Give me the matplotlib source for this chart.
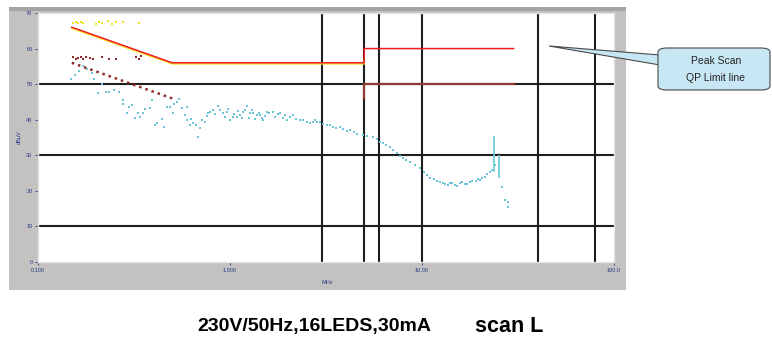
import matplotlib
matplotlib.use('Agg')
import matplotlib.pyplot as plt
from matplotlib.patches import Rectangle, FancyBboxPatch, Polygon

plt.rcParams['font.family'] = ['Liberation Sans', 'DejaVu Sans']

W, H = 772, 339

# peak scan trace, MHz / dBuV
scan_f = [0.149, 0.164, 0.172, 0.180, 0.196, 0.215, 0.226, 0.234, 0.264, 0.277,
          0.277, 0.291, 0.298, 0.309, 0.332, 0.340, 0.352, 0.383, 0.393, 0.407,
          0.417, 0.453, 0.470, 0.487, 0.505, 0.530, 0.543, 0.562, 0.583, 0.597,
          0.619, 0.642, 0.665, 0.681, 0.715, 0.741, 0.768, 0.787, 0.816, 0.866,
          0.919, 0.965, 1.00, 1.037, 1.088, 1.128, 1.169, 1.226, 1.271, 1.318,
          1.382, 1.432, 1.485, 1.558, 1.675, 1.821, 1.981, 2.129, 2.315, 2.518,
          2.706, 2.839, 2.943, 3.201, 3.440, 3.74, 4.217, 4.93, 5.56, 6.04,
          6.27, 6.81, 7.41, 7.68, 8.66, 9.76, 11.0, 12.41, 13.2, 13.99,
          14.8, 15.78, 16.7, 17.78, 19.0, 20.05, 21.2, 22.6, 24.0, 26.1,
          27.1, 28.0, 28.1]
scan_db = [51.4, 53.7, 55.1, 54.3, 51.4, 50.0, 47.8, 47.8, 47.8, 45.5,
           44.5, 41.9, 43.6, 44.2, 41.9, 40.8, 41.9, 43.3, 45.5, 38.5,
           39.0, 38.0, 43.6, 43.6, 41.9, 45.0, 45.8, 43.3, 41.3, 43.6,
           38.5, 39.1, 38.5, 35.1, 39.9, 39.4, 41.9, 42.2, 42.7, 43.9,
           41.9, 42.2, 39.9, 40.8, 40.8, 41.3, 42.2, 43.9, 41.9, 41.9,
           41.3, 41.3, 39.9, 42.2, 42.2, 41.9, 39.9, 41.3, 39.9, 39.4,
           39.4, 39.4, 39.4, 38.5, 38.0, 38.0, 37.1, 35.7, 35.1, 33.7,
           33.5, 32.3, 30.6, 29.8, 28.1, 26.4, 23.6, 22.5, 22.0, 22.2,
           21.6, 22.2, 21.8, 22.5, 22.8, 23.1, 24.0, 25.3, 27.3, 21.1,
           17.4, 17.0, 15.5]
# more trace points read between the ones above
scan2_f = [0.155, 0.19, 0.205, 0.25, 0.32, 0.36, 0.44, 0.51, 0.6, 0.63,
           0.7, 0.76, 0.84, 0.89, 0.94, 0.98, 1.05, 1.10, 1.15, 1.20,
           1.25, 1.30, 1.35, 1.41, 1.46, 1.52, 1.6, 1.72, 1.77, 1.88,
           1.93, 2.05, 2.2, 2.4, 2.6, 2.78, 3.05, 3.3, 3.55, 3.9,
           4.05, 4.4, 4.6, 5.2, 5.8, 6.5, 7.1, 8.0, 8.3, 9.2,
           10.3, 10.6, 11.6, 12.0, 12.8, 13.6, 14.4, 15.2, 16.2, 17.2,
           18.3, 19.5, 20.6, 21.9, 23.2]
scan2_db = [52.5, 53.0, 47.5, 48.3, 40.5, 43.0, 40.3, 44.5, 39.8, 40.2,
            37.8, 41.0, 41.5, 42.6, 40.8, 43.0, 41.5, 42.5, 40.5, 42.8,
            40.6, 42.6, 40.2, 42.0, 40.5, 41.0, 41.8, 40.9, 41.6, 40.6,
            41.3, 40.7, 40.3, 40.0, 39.0, 39.8, 38.9, 38.6, 37.6, 37.4,
            36.9, 36.6, 36.0, 35.3, 34.5, 33.0, 31.4, 29.2, 28.8, 27.2,
            25.2, 24.4, 23.2, 22.9, 22.1, 21.7, 22.3, 21.4, 22.5, 21.9,
            22.8, 23.3, 23.6, 24.6, 25.8]
spike_f = [23.7, 25.2]
spike_lo = [25.3, 23.6]
spike_hi = [35.4, 30.1]

# limit lines
qp_f = [0.15, 0.5, 5, 5, 30]
qp_db = [66, 56, 56, 60, 60]
qp_shadow_f = [0.15, 0.5, 5, 5]
qp_shadow_db = [65.7, 55.7, 55.7, 56.8]
av_f = [0.15, 0.5]
av_db = [56, 46]
av2_f = [5, 5, 30]
av2_db = [46, 50, 50]

# smeared legend marks top left
leg_y_f = [0.152, 0.157, 0.162, 0.167, 0.171, 0.200, 0.208, 0.216, 0.231, 0.243,
           0.256, 0.277, 0.336]
leg_y_db = [67.3, 67.5, 67.1, 67.4, 67.2, 67.0, 67.6, 67.3, 67.8, 67.0,
            67.4, 67.5, 67.2]
leg_r_f = [0.152, 0.157, 0.162, 0.167, 0.172, 0.178, 0.186, 0.193, 0.215, 0.233,
           0.255, 0.324, 0.335, 0.345]
leg_r_db = [57.6, 57.2, 57.4, 57.5, 57.0, 57.6, 57.3, 57.0, 57.5, 57.2,
            57.0, 57.5, 57.0, 58.0]

grid_db = [10, 30, 50]
grid_f = [3, 5, 6, 10, 40, 80]
ytick_vals = [0, 10, 20, 30, 40, 50, 60, 70]
xtick_vals = [0.1, 1, 10, 100]
xtick_labels = ['0.100', '1.000', '10.00', '100.0']

navy = '#2b3a8c'
cyan = '#6cc6d8'


def fx(x):
    return x / W


def fy(y):
    return 1 - y / H


fig = plt.figure(figsize=(7.72, 3.39), dpi=100)

# grey frame behind the plot
fig.add_artist(Rectangle((fx(9), fy(290)), fx(617), (290 - 7) / H,
                         transform=fig.transFigure, facecolor='#c3c2c0',
                         edgecolor='none', zorder=0))
fig.add_artist(Rectangle((fx(9), fy(11)), fx(617), 4 / H,
                         transform=fig.transFigure, facecolor='#a4a4a4',
                         edgecolor='none', zorder=0))

ax = fig.add_axes([fx(38), fy(262), fx(576), 249 / H])
ax.set_xscale('log')
ax.set_xlim(0.1, 100)
ax.set_ylim(0, 70)
ax.set_facecolor('white')

for d in grid_db:
    ax.axhline(d, color='#1e1e1e', lw=1.5, zorder=1)
for f in grid_f:
    ax.axvline(f, color='#1e1e1e', lw=1.5, zorder=1)

ax.plot(scan_f, scan_db, 's', color=cyan, ms=2.0, mew=0, zorder=3)
ax.plot(scan2_f, scan2_db, 's', color=cyan, ms=2.0, mew=0, zorder=3)
ax.vlines(spike_f, spike_lo, spike_hi, color=cyan, lw=1.2, zorder=3)

ax.plot(qp_shadow_f, qp_shadow_db, color='#f2e21a', lw=1.1, zorder=4)
ax.plot(qp_f, qp_db, color='#ee1c24', lw=1.1, zorder=5)
ax.plot(av_f, av_db, color='#8e2a2a', lw=1.8, ls=(0, (1, 1.6)), zorder=4)
ax.plot(av2_f, av2_db, color='#a04040', lw=1.6, alpha=0.85, zorder=4)

ax.plot(leg_y_f, leg_y_db, 's', color='#f0e020', ms=1.8, mew=0)
ax.plot(leg_r_f, leg_r_db, 's', color='#8e2a2a', ms=2.0, mew=0)

ax.set_yticks(ytick_vals)
ax.set_yticklabels([str(v) for v in ytick_vals], fontsize=4, color=navy)
ax.set_xticks(xtick_vals)
ax.set_xticklabels(xtick_labels, fontsize=4, color=navy)
ax.minorticks_off()
ax.tick_params(length=2, width=0.6, color=navy, pad=2)
for s in ax.spines.values():
    s.set_color('#e4e4e4')
    s.set_linewidth(1.0)
ax.set_ylabel('dBµV', fontsize=4, color=navy, labelpad=3)
fig.text(fx(327), fy(282), 'MHz', fontsize=4, color=navy, ha='center', va='center')

# callout
tip = (fx(549), fy(46))
fig.add_artist(Polygon([tip, (fx(660), fy(55)), (fx(660), fy(65))],
                       closed=True, transform=fig.transFigure,
                       facecolor='#c8e7f4', edgecolor='#4a4a4a', lw=0.8, zorder=6))
fig.add_artist(FancyBboxPatch((fx(658), fy(90)), fx(112), 42 / H,
                              boxstyle='round,pad=0,rounding_size=0.012',
                              transform=fig.transFigure, facecolor='#c8e7f4',
                              edgecolor='#4a4a4a', lw=0.8, zorder=7))
fig.text(fx(716), fy(61), 'Peak Scan', fontsize=7.5, ha='center', va='center',
         color='#222222', zorder=8)
fig.text(fx(716), fy(78), 'QP Limit line', fontsize=7.5, ha='center', va='center',
         color='#222222', zorder=8)

fig.text(fx(197), fy(326), '230V/50Hz,16LEDS,30mA', fontsize=14,
         fontweight='bold', ha='left', va='center')
fig.text(fx(475), fy(326), 'scan L', fontsize=15.5, fontweight='bold',
         ha='left', va='center')

fig.savefig('out.png', dpi=100)
